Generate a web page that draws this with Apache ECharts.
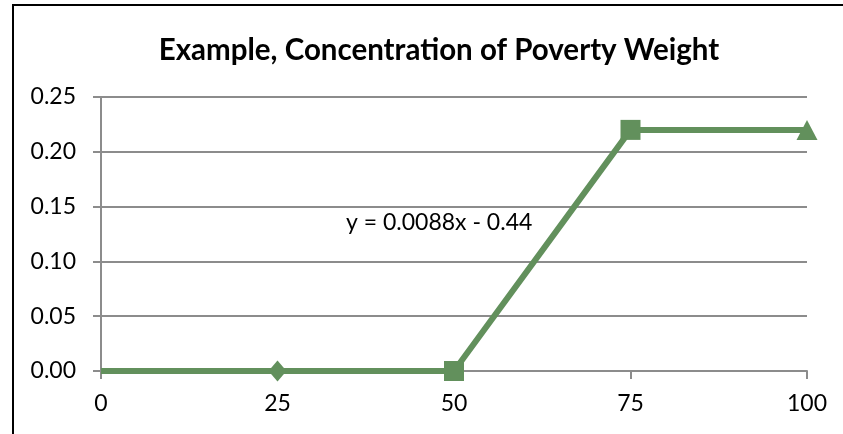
<!DOCTYPE html>
<html>
<head>
<meta charset="utf-8">
<script src="https://cdn.jsdelivr.net/npm/echarts@6/dist/echarts.min.js"></script>
<style>
  html, body { margin: 0; padding: 0; background: #fff; }
  #chart { width: 843px; height: 434px; }
</style>
</head>
<body>
<div id="chart"></div>
<script>
// Percentile positions and the corresponding poverty weight
const xValues = [0, 25, 50, 75, 100];
const yValues = [0, 0, 0, 0.22, 0.22];
const markerShapes = ['none', 'diamond', 'rect', 'rect', 'triangle'];
const xTicks = [0, 25, 50, 75, 100];
const yTicks = [0, 0.05, 0.10, 0.15, 0.20, 0.25];
const titleText = 'Example, Concentration of Poverty Weight';
const equationText = 'y = 0.0088x - 0.44';

const lineColor = '#62905c';
const font = 'Lato, "Open Sans", sans-serif';

// Marker size per shape
const markerSizes = { none: 0, diamond: [18, 21], rect: 20, triangle: [21, 20] };

const points = xValues.map((x, i) => ({
  value: [x, yValues[i]],
  symbol: markerShapes[i],
  symbolSize: markerSizes[markerShapes[i]]
}));

const chart = echarts.init(document.getElementById('chart'), null, { renderer: 'canvas' });
chart.setOption({
  backgroundColor: '#ffffff',
  animation: false,
  title: {
    text: titleText,
    left: 434,
    top: 30,
    textAlign: 'center',
    textStyle: { fontFamily: font, fontWeight: 'bold', fontSize: 29.5, color: '#000' }
  },
  grid: { left: 101, right: 36, top: 97, bottom: 63 },
  xAxis: {
    type: 'value',
    min: xTicks[0],
    max: xTicks[xTicks.length - 1],
    interval: 25,
    axisLine: { show: true, onZero: false, lineStyle: { color: '#8c8c8c', width: 2 } },
    axisTick: { show: true, length: 8, lineStyle: { color: '#8c8c8c', width: 2 } },
    axisLabel: { color: '#000', fontFamily: font, fontSize: 23, margin: 21 },
    splitLine: { show: false }
  },
  yAxis: {
    type: 'value',
    min: yTicks[0],
    max: yTicks[yTicks.length - 1],
    interval: 0.05,
    axisLine: { show: true, onZero: false, lineStyle: { color: '#8c8c8c', width: 2 } },
    axisTick: { show: true, length: 8, lineStyle: { color: '#8c8c8c', width: 2 } },
    axisLabel: {
      color: '#000', fontFamily: font, fontSize: 23, margin: 25,
      formatter: v => v.toFixed(2)
    },
    splitLine: { show: true, lineStyle: { color: '#8c8c8c', width: 2 } }
  },
  graphic: [
    {
      type: 'polyline',
      silent: true,
      shape: { points: [[13, 440], [13, 5], [850, 5]] },
      style: { stroke: '#000', lineWidth: 2, fill: null }
    },
    {
      type: 'text',
      left: 346,
      top: 211,
      silent: true,
      style: { text: equationText, fill: '#000', font: '23px ' + font }
    }
  ],
  series: [{
    type: 'line',
    data: points,
    lineStyle: { color: lineColor, width: 6 },
    itemStyle: { color: lineColor },
    showAllSymbol: true,
    z: 5
  }]
});
</script>
</body>
</html>
